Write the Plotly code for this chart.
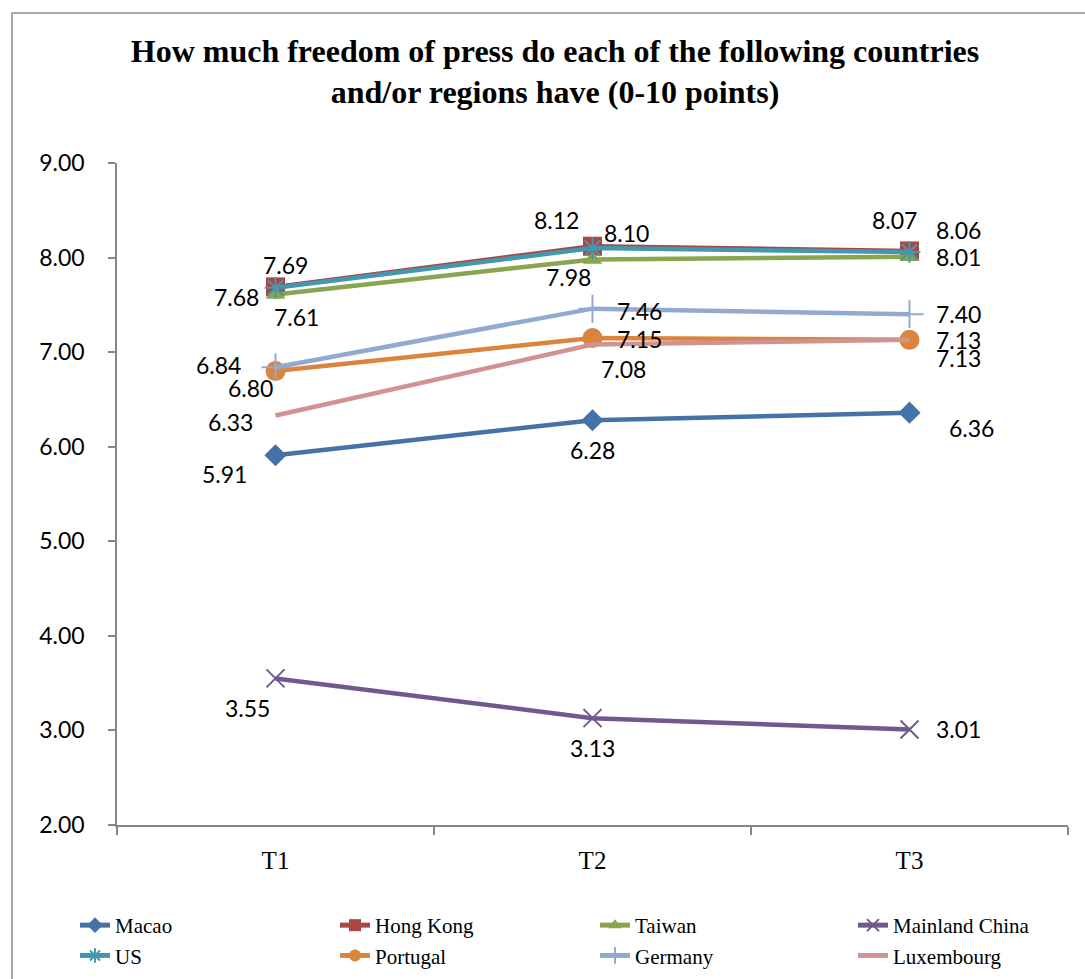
import plotly.graph_objects as go

# Survey waves and mean scores (0-10 scale)
waves = ["T1", "T2", "T3"]
regions = ["Macao", "Hong Kong", "Taiwan", "Mainland China",
           "US", "Portugal", "Germany", "Luxembourg"]
macao = [5.91, 6.28, 6.36]
hong_kong = [7.69, 8.12, 8.07]
taiwan = [7.61, 7.98, 8.01]
mainland_china = [3.55, 3.13, 3.01]
us = [7.68, 8.10, 8.06]
portugal = [6.80, 7.15, 7.13]
germany = [6.84, 7.46, 7.40]
luxembourg = [6.33, 7.08, 7.13]
series = [macao, hong_kong, taiwan, mainland_china, us, portugal, germany, luxembourg]

# Line colour and marker style per region
styles = {
    "Macao": dict(color="#4572A7", symbol="diamond", size=17, open=False),
    "Hong Kong": dict(color="#AA4643", symbol="square", size=19, open=False),
    "Taiwan": dict(color="#89A54E", symbol="triangle-up", size=17, open=False),
    "Mainland China": dict(color="#71588F", symbol="x-thin-open", size=18, open=True),
    "US": dict(color="#4198AF", symbol="asterisk-open", size=18, open=True),
    "Portugal": dict(color="#DB843D", symbol="circle", size=20, open=False),
    "Germany": dict(color="#93A9CF", symbol="cross-thin-open", size=20, open=True),
    "Luxembourg": dict(color="#D19392", symbol=None, size=0, open=False),
}

# Pixel offsets (dx, dy) of each value label from its point, per wave
label_offsets = {
    "Macao": [(-51, 19), (0, 30), (62, 15)],
    "Hong Kong": [(10, -22), (-36, -26), (-15, -31)],
    "Taiwan": [(21, 23), (-24, 18), (49, 0)],
    "Mainland China": [(-28, 30), (0, 30), (49, 0)],
    "US": [(-39, 9), (34, -15), (49, -22)],
    "Portugal": [(-25, 17), (47, 1), (49, 0)],
    "Germany": [(-57, -2), (47, 2), (49, 0)],
    "Luxembourg": [(-45, 6), (31, 24), (49, 18)],
}

# Legend layout: four columns of two entries each
legend_column = {
    "Macao": "legend", "US": "legend",
    "Hong Kong": "legend2", "Portugal": "legend2",
    "Taiwan": "legend3", "Germany": "legend3",
    "Mainland China": "legend4", "Luxembourg": "legend4",
}
plot_left, plot_width = 117, 951
legend_x_px = [75, 335, 595, 853]

fig = go.Figure()
annotations = []
for name, vals in zip(regions, series):
    st = styles[name]
    if st["symbol"] is None:
        mode = "lines"
        marker = None
    else:
        mode = "lines+markers"
        if st["open"]:
            marker = dict(symbol=st["symbol"], size=st["size"], color=st["color"],
                          line=dict(color=st["color"], width=2))
        else:
            marker = dict(symbol=st["symbol"], size=st["size"], color=st["color"],
                          line=dict(width=0))
    fig.add_trace(go.Scatter(
        x=waves, y=vals, name=name, mode=mode,
        line=dict(color=st["color"], width=4.5),
        marker=marker, legend=legend_column[name],
    ))
    for i, v in enumerate(vals):
        dx, dy = label_offsets[name][i]
        annotations.append(dict(
            x=waves[i], y=v, xref="x", yref="y", text=f"{v:.2f}",
            showarrow=False, xshift=dx, yshift=-dy,
            font=dict(family="Lato", size=23, color="#000000"),
        ))

# Outer chart frame (runs off the right and bottom edges)
fig.add_shape(type="rect", xref="paper", yref="paper", x0=-0.1104, x1=1.05,
              y0=-0.3, y1=1.2266, line=dict(color="#8C8C8C", width=1.5),
              fillcolor="rgba(0,0,0,0)", layer="below")

legend_common = dict(
    orientation="v", xref="paper", yref="container",
    y=0.0756, xanchor="left", yanchor="top",
    font=dict(family="Liberation Serif", size=21, color="#000000"),
    itemwidth=30, itemsizing="constant",
    bgcolor="rgba(0,0,0,0)", tracegroupgap=0,
)
legends = {}
for key, px in zip(["legend", "legend2", "legend3", "legend4"], legend_x_px):
    legends[key] = dict(x=(px - plot_left) / plot_width, **legend_common)

fig.update_layout(
    width=1085, height=979,
    margin=dict(l=117, r=17, t=163, b=154),
    paper_bgcolor="white", plot_bgcolor="white",
    title=dict(
        text="How much freedom of press do each of the following countries<br>and/or regions have (0-10 points)",
        x=555 / 1085, xanchor="center", xref="container",
        y=0.937, yanchor="top", yref="container",
        font=dict(family="Liberation Serif", size=32, color="#000000", weight="bold"),
    ),
    showlegend=True,
    annotations=annotations,
    **legends,
)

fig.update_xaxes(
    type="category", range=[-0.5, 2.5], tickson="boundaries",
    ticks="outside", ticklen=8, tickcolor="#868686", tickwidth=1.5,
    showline=True, linecolor="#868686", linewidth=1.5,
    showgrid=False, zeroline=False, ticklabelstandoff=12,
    tickfont=dict(family="Liberation Serif", size=25, color="#000000"),
)
fig.update_yaxes(
    range=[2, 9], dtick=1, tickformat=".2f",
    ticks="outside", ticklen=7, tickcolor="#868686", tickwidth=1.5,
    showline=True, linecolor="#868686", linewidth=1.5,
    showgrid=False, zeroline=False, ticklabelstandoff=19,
    tickfont=dict(family="Lato", size=23, color="#000000"),
)

fig.write_html("out.html")
